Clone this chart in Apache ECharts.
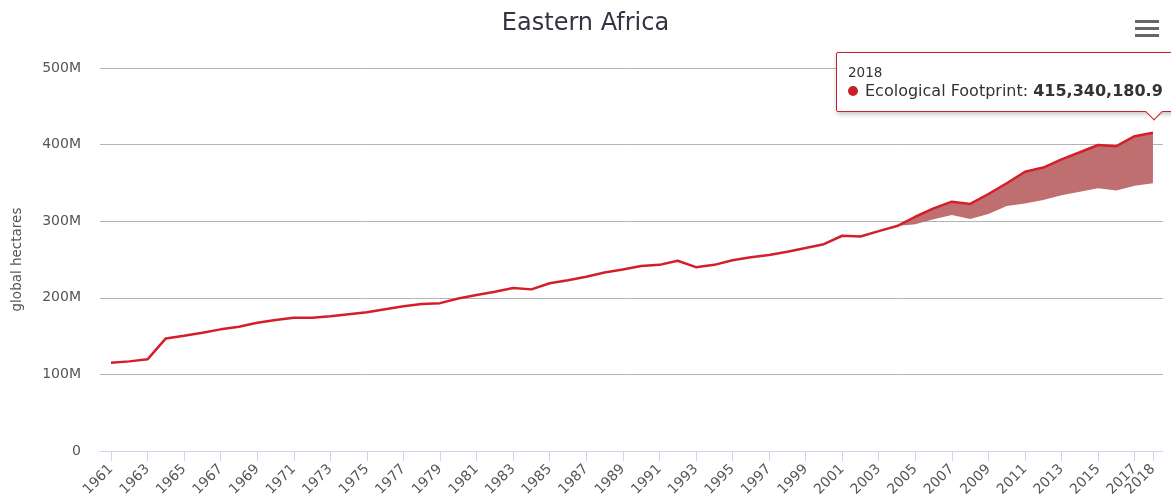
<!DOCTYPE html>
<html>
<head>
<meta charset="utf-8">
<title>Eastern Africa</title>
<script src="https://cdn.jsdelivr.net/npm/echarts@6/dist/echarts.min.js"></script>
<style>
	html, body {margin: 0; padding: 0; background: #fff; overflow: hidden;}
	#chart {width: 1171px; height: 497px;}
</style>
</head>
<body>
<div id="chart"></div>
<script>
// years on the x axis
var years = [1961, 1962, 1963, 1964, 1965, 1966, 1967, 1968, 1969, 1970,
	1971, 1972, 1973, 1974, 1975, 1976, 1977, 1978, 1979, 1980,
	1981, 1982, 1983, 1984, 1985, 1986, 1987, 1988, 1989, 1990,
	1991, 1992, 1993, 1994, 1995, 1996, 1997, 1998, 1999, 2000,
	2001, 2002, 2003, 2004, 2005, 2006, 2007, 2008, 2009, 2010,
	2011, 2012, 2013, 2014, 2015, 2016, 2017, 2018];

// Ecological Footprint (global hectares)
var footprint = [115300000, 117000000, 119700000, 147000000, 150500000, 154500000, 158800000, 162300000, 167500000, 171000000,
	174000000, 174000000, 176000000, 178500000, 181000000, 185000000, 189000000, 192000000, 193000000, 199000000,
	203600000, 208000000, 212800000, 211000000, 219000000, 223000000, 227500000, 233000000, 237000000, 241500000,
	243000000, 248400000, 240000000, 243000000, 249000000, 253000000, 256000000, 260000000, 265000000, 270000000,
	281000000, 280000000, 287000000, 293700000, 305800000, 316800000, 325500000, 322500000, 335500000, 349500000,
	364600000, 370000000, 380800000, 390000000, 399500000, 398000000, 411000000, 415340180.9];

// lower edge of the shaded band (2004 - 2018)
var bandYears = [2004, 2005, 2006, 2007, 2008, 2009, 2010, 2011, 2012, 2013, 2014, 2015, 2016, 2017, 2018];
var bandLow = [293700000, 296000000, 302500000, 308000000, 302900000, 309400000, 319800000, 323000000,
	327700000, 333800000, 338500000, 343000000, 340000000, 346400000, 349500000];

// tick labels on the x axis (2018 sits on its own axis so it is not dropped next to 2017)
var yearTicks = [1961, 1963, 1965, 1967, 1969, 1971, 1973, 1975, 1977, 1979, 1981, 1983, 1985, 1987, 1989,
	1991, 1993, 1995, 1997, 1999, 2001, 2003, 2005, 2007, 2009, 2011, 2013, 2015, 2017, 2018];
var yearLabels = [1961, 1963, 1965, 1967, 1969, 1971, 1973, 1975, 1977, 1979, 1981, 1983, 1985, 1987, 1989,
	1991, 1993, 1995, 1997, 1999, 2001, 2003, 2005, 2007, 2009, 2011, 2013, 2015, 2017];
var lastYearLabel = [2018];

var chartDom = document.getElementById('chart');
var myChart = echarts.init(chartDom);

var lineData = years.map(function(y, i){ return [y, footprint[i]]; });
// band rows: year, low, high
var bandData = bandYears.map(function(y, i){
	return [y, bandLow[i], footprint[years.indexOf(y)]];
});

var font = '"DejaVu Sans", Verdana, sans-serif';

// 画阴影带 (one polygon: top edge left->right, bottom edge right->left)
function renderBand(params, api){
	if(params.dataIndex !== 0) return null;
	var pts = [];
	for(var i = 0; i < bandData.length; i++){
		pts.push(api.coord([bandData[i][0], bandData[i][2]]));
	}
	for(var j = bandData.length - 1; j >= 0; j--){
		pts.push(api.coord([bandData[j][0], bandData[j][1]]));
	}
	return {
		type: 'polygon',
		shape: {points: pts},
		style: {fill: '#c06f70'}
	};
}

var xLabelStyle = {
	rotate: 45,
	margin: 16,
	hideOverlap: false,
	color: '#555',
	fontFamily: font,
	fontSize: 14,
	formatter: function(v){ return String(v); }
};

var option = {
	animation: false,
	title: {
		text: 'Eastern Africa',
		left: 'center',
		top: 7,
		textStyle: {fontFamily: font, fontSize: 24, fontWeight: 'normal', color: '#333344'}
	},
	toolbox: {
		right: -3,
		top: 5,
		itemSize: 24,
		feature: {
			myMenu: {
				show: true,
				title: 'Chart menu',
				icon: 'path://M0,0H24V3H0Z M0,7H24V10H0Z M0,14H24V17H0Z',
				onclick: function(){}
			}
		},
		iconStyle: {color: '#666', borderWidth: 0}
	},
	tooltip: {
		trigger: 'item',
		triggerOn: 'none',
		alwaysShowContent: true,
		transitionDuration: 0,
		backgroundColor: 'rgba(255,255,255,0.96)',
		borderColor: '#c8202a',
		borderWidth: 1.5,
		borderRadius: 2,
		padding: [11, 12, 9, 11],
		extraCssText: 'box-shadow: 1px 2px 5px rgba(0,0,0,0.25);',
		position: function(){ return [836, 52]; },
		formatter: function(p){
			var v = p.value[1].toLocaleString('en-US', {minimumFractionDigits: 1, maximumFractionDigits: 1});
			return '<div style="font-family:\'DejaVu Sans\',sans-serif;color:#333;">'
				+ '<div style="font-size:13.5px;line-height:16px;">' + p.value[0] + '</div>'
				+ '<div style="font-size:16px;line-height:22px;white-space:nowrap;">'
				+ '<span style="display:inline-block;width:10px;height:10px;border-radius:5px;background:#c8202a;margin-right:7px;"></span>'
				+ 'Ecological Footprint: <b>' + v + '</b></div>'
				+ '<div style="position:absolute;left:311px;bottom:-7px;width:11px;height:11px;background:#fff;'
				+ 'border-right:1.5px solid #c8202a;border-bottom:1.5px solid #c8202a;transform:rotate(45deg);"></div>'
				+ '</div>';
		}
	},
	grid: {left: 100, right: 8, top: 68, bottom: 46, outerBoundsMode: 'none'},
	xAxis: [
		{
			type: 'value',
			position: 'bottom',
			min: 1960.4,
			max: 2018.55,
			splitLine: {show: false},
			axisLine: {show: true, lineStyle: {color: '#ccd6eb'}},
			axisTick: {show: true, length: 10, customValues: yearTicks, lineStyle: {color: '#ccd6eb'}},
			axisLabel: Object.assign({customValues: yearLabels}, xLabelStyle)
		},
		{
			type: 'value',
			position: 'bottom',
			min: 1960.4,
			max: 2018.55,
			splitLine: {show: false},
			axisLine: {show: false},
			axisTick: {show: false},
			axisLabel: Object.assign({customValues: lastYearLabel}, xLabelStyle)
		}
	],
	yAxis: {
		type: 'value',
		min: 0,
		max: 500000000,
		interval: 100000000,
		name: 'global hectares',
		nameLocation: 'middle',
		nameGap: 76,
		nameTextStyle: {fontFamily: font, fontSize: 13.5, color: '#555'},
		axisLine: {show: false},
		axisTick: {show: false},
		axisLabel: {
			margin: 19,
			color: '#555',
			fontFamily: font,
			fontSize: 14,
			formatter: function(v){ return v === 0 ? '0' : (v / 1000000) + 'M'; }
		},
		splitLine: {lineStyle: {color: '#b4b4b4', width: 1}}
	},
	series: [
		{
			name: 'Band',
			type: 'custom',
			renderItem: renderBand,
			data: bandData,
			silent: true,
			tooltip: {show: false},
			encode: {x: 0, y: [1, 2]}
		},
		{
			name: 'Ecological Footprint',
			type: 'line',
			data: lineData,
			showSymbol: true,
			symbol: 'circle',
			symbolSize: 2,
			lineStyle: {width: 2.5, color: '#d41f2b'},
			itemStyle: {color: '#c8202a', opacity: 0},
			emphasis: {disabled: true}
		}
	]
};
myChart.setOption(option);
myChart.dispatchAction({type: 'showTip', seriesIndex: 1, dataIndex: years.length - 1});
</script>
</body>
</html>
